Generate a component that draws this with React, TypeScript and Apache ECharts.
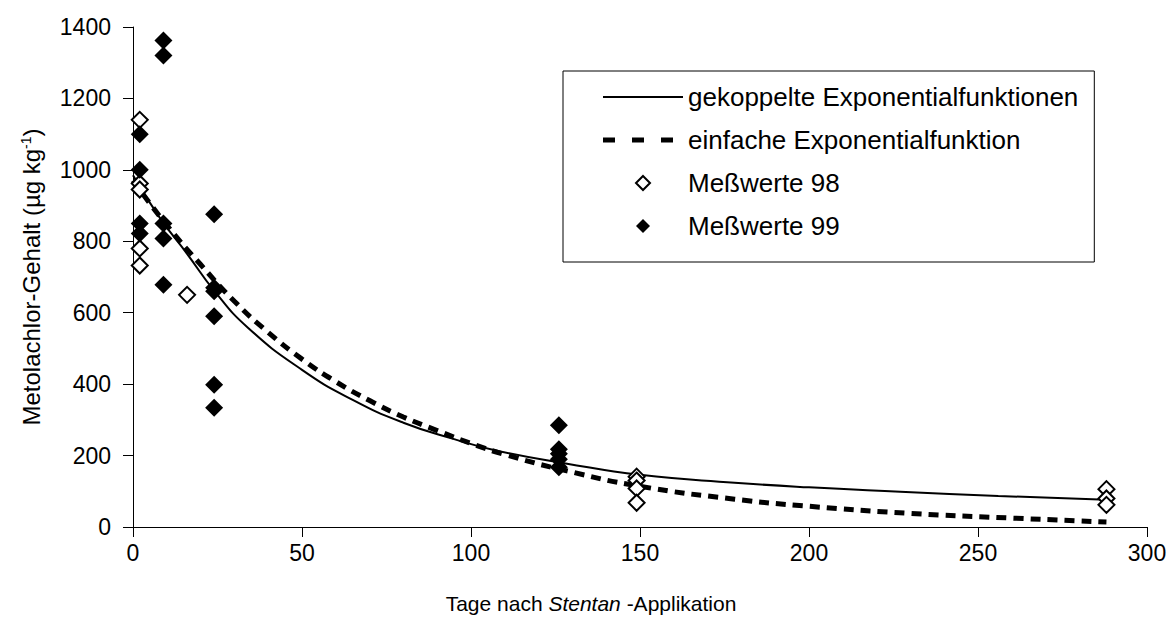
import React, { useEffect, useRef } from "react";
import * as echarts from "echarts";

// Fitted curves: [day, µg/kg]
const fitCoupled: [number, number][] = [
  [0, 985], [8, 865], [16, 765], [24, 662], [34, 558], [50, 440], [65, 356],
  [80, 292], [95, 246], [108, 213], [128, 178], [150, 146], [178, 124],
  [200, 111], [227, 99], [256, 87], [288, 76],
];
const fitSimple: [number, number][] = [
  [0, 970], [10, 845], [20, 735], [30, 632], [40, 545], [50, 470], [60, 407],
  [70, 354], [80, 308], [90, 270], [100, 234], [110, 203], [128, 158],
  [150, 114], [178, 78], [200, 58], [230, 38], [260, 25], [288, 14],
];
// Measured values
const meas98: [number, number][] = [
  [2, 1140], [2, 962], [2, 945], [2, 780], [2, 732], [16, 650],
  [149, 141], [149, 130], [149, 108], [149, 68],
  [288, 106], [288, 80], [288, 62],
];
const meas99: [number, number][] = [
  [2, 1100], [2, 1000], [2, 850], [2, 822],
  [9, 1362], [9, 1320], [9, 850], [9, 808], [9, 678],
  [24, 876], [24, 670], [24, 660], [24, 590], [24, 398], [24, 334],
  [126, 285], [126, 218], [126, 205], [126, 190], [126, 167],
];

const seriesNames = [
  "gekoppelte Exponentialfunktionen",
  "einfache Exponentialfunktion",
  "Meßwerte 98",
  "Meßwerte 99",
];

const FONT = '"Liberation Sans", Arial, sans-serif';

const ICON_SOLID = "path://M0,0H80V2H0Z";
const ICON_DASH = "path://M0,0H12V5H0Z M29,0H41V5H29Z M58,0H70V5H58Z M79.99,0H80V0.01H79.99Z";
const ICON_DIAMOND = "path://M8,0L16,8L8,16L0,8Z";

export default function App() {
  const ref = useRef<HTMLDivElement>(null);
  useEffect(() => {
    document.body.style.margin = "0";
    const chart = echarts.init(ref.current!, null, { renderer: "svg" });
    chart.setOption({
      animation: false,
      backgroundColor: "#fff",
      grid: { left: 133, top: 27, right: 25, bottom: 107, containLabel: false },
      xAxis: {
        type: "value",
        min: 0,
        max: 300,
        interval: 50,
        axisLine: { show: true, lineStyle: { color: "#000", width: 1 } },
        axisTick: { show: true, length: 10, lineStyle: { color: "#000" } },
        splitLine: { show: false },
        axisLabel: { color: "#000", fontSize: 23, fontFamily: FONT, margin: 14, formatter: (v: number) => String(v) },
        name: "Tage nach {i|Stentan} -Applikation",
        nameLocation: "middle",
        nameGap: 66,
        nameTextStyle: {
          color: "#000",
          fontSize: 21,
          fontFamily: FONT,
          padding: [0, 98, 0, 0],
          rich: { i: { fontStyle: "italic", fontSize: 21, fontFamily: FONT, color: "#000" } },
        },
      },
      yAxis: {
        type: "value",
        min: 0,
        max: 1400,
        interval: 200,
        axisLine: { show: true, lineStyle: { color: "#000", width: 1 } },
        axisTick: { show: true, length: 10, lineStyle: { color: "#000" } },
        splitLine: { show: false },
        axisLabel: { color: "#000", fontSize: 23, fontFamily: FONT, margin: 22, formatter: (v: number) => String(v) },
        name: "Metolachlor-Gehalt (µg kg{sup|-1})",
        nameLocation: "middle",
        nameRotate: 90,
        nameGap: 90,
        nameTextStyle: {
          color: "#000",
          fontSize: 24,
          fontFamily: FONT,
          rich: { sup: { fontSize: 14, fontFamily: FONT, color: "#000", verticalAlign: "top" } },
        },
      },
      legend: {
        orient: "vertical",
        left: 563,
        top: 71,
        padding: [13, 16, 23, 40],
        itemWidth: 80,
        itemHeight: 14,
        itemGap: 17,
        borderColor: "#000",
        borderWidth: 1,
        selectedMode: false,
        textStyle: { color: "#000", fontSize: 26, fontFamily: FONT },
        data: [
          { name: seriesNames[0], icon: ICON_SOLID, itemStyle: { color: "#000", borderWidth: 0 } },
          { name: seriesNames[1], icon: ICON_DASH, itemStyle: { color: "#000", borderWidth: 0 } },
          { name: seriesNames[2], icon: ICON_DIAMOND, itemStyle: { color: "#fff", borderColor: "#000", borderWidth: 2 } },
          { name: seriesNames[3], icon: ICON_DIAMOND, itemStyle: { color: "#000", borderWidth: 0 } },
        ],
      },
      series: [
        {
          name: seriesNames[0],
          type: "line",
          data: fitCoupled,
          smooth: true,
          symbol: "none",
          showSymbol: false,
          lineStyle: { color: "#000", width: 2 },
          itemStyle: { color: "#000" },
          z: 2,
        },
        {
          name: seriesNames[1],
          type: "line",
          data: fitSimple,
          smooth: true,
          symbol: "none",
          showSymbol: false,
          lineStyle: { color: "#000", width: 5, type: [10, 7] },
          itemStyle: { color: "#000" },
          z: 2,
        },
        {
          name: seriesNames[2],
          type: "scatter",
          data: meas98,
          symbol: "diamond",
          symbolSize: 16,
          itemStyle: { color: "#fff", borderColor: "#000", borderWidth: 2, opacity: 1 },
          z: 3,
        },
        {
          name: seriesNames[3],
          type: "scatter",
          data: meas99,
          symbol: "diamond",
          symbolSize: 18,
          itemStyle: { color: "#000", opacity: 1 },
          z: 4,
        },
      ],
    });
    return () => chart.dispose();
  }, []);
  return <div ref={ref} style={{ width: 1172, height: 634, background: "#fff" }} />;
}
